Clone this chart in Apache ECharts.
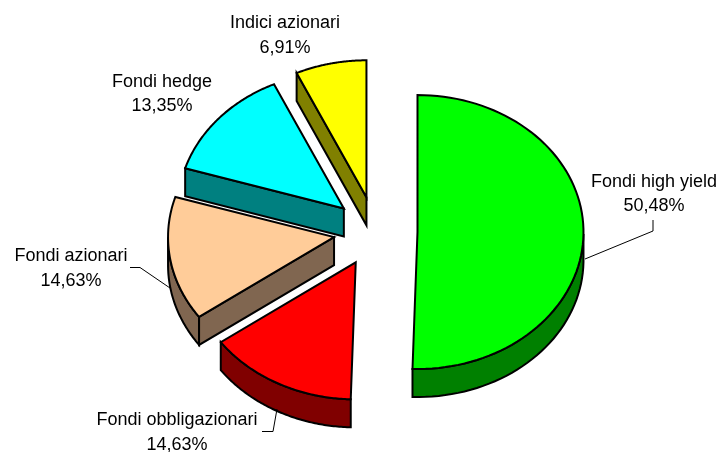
<!DOCTYPE html>
<html>
<head>
<meta charset="utf-8">
<style>html,body{margin:0;padding:0;background:#fff}#c{width:720px;height:452px}</style>
<script src="https://cdn.jsdelivr.net/npm/echarts@6/dist/echarts.min.js"></script>
</head>
<body>
<div id="c"></div>
<script>
var names = ['Fondi high yield', 'Fondi obbligazionari', 'Fondi azionari', 'Fondi hedge', 'Indici azionari'];
var values = [50.48, 14.63, 14.63, 13.35, 6.91];
var topColors = ['#00ff00', '#ff0000', '#ffcc99', '#00ffff', '#ffff00'];
var sideColors = ['#008000', '#800000', '#806650', '#008080', '#808000'];

var labelCenters = [[654, 194], [177, 432.5], [71, 268.5], [162, 94], [285, 35.5]];
var leaderLines = [
  [[585, 259], [653, 231], [653, 220]],
  [[277, 409], [273, 431.5], [262, 431.5]],
  [[170, 288], [140, 267.5], [130, 267.5]],
  null,
  null
];

var C = [375.5, 231.5], RX = 166, RY = 137, EXPLODE_X = 42, EXPLODE_Y = 35, DEPTH = 28;
var total = values.reduce(function (a, b) { return a + b; }, 0);
var starts = [];
values.reduce(function (acc, v, i) { starts[i] = acc; return acc + v; }, 0);

function pointAt(apex, angle) {
  return [apex[0] + RX * Math.sin(angle), apex[1] - RY * Math.cos(angle)];
}
function down(p) { return [p[0], p[1] + DEPTH]; }
var outline = { stroke: '#000', lineWidth: 2, lineJoin: 'miter', miterLimit: 20 };
function poly(points, fill) {
  return {
    type: 'polygon', shape: { points: points },
    style: Object.assign({ fill: fill }, outline)
  };
}
function renderItem(params, api) {
  var i = params.dataIndex, v = api.value(0);
  var a0 = starts[i] / total * 2 * Math.PI;
  var a1 = a0 + v / total * 2 * Math.PI;
  var mid = (a0 + a1) / 2;
  var apex = [C[0] + EXPLODE_X * Math.sin(mid), C[1] - EXPLODE_Y * Math.cos(mid)];
  var arc = [], n = 80, k;
  for (k = 0; k <= n; k++) arc.push(pointAt(apex, a0 + (a1 - a0) * k / n));

  var children = [];
  // visible outer wall: parts of the rim that travel leftwards on screen
  var run = [];
  function flush() {
    if (run.length > 1) {
      children.push(poly(run.concat(run.slice().reverse().map(down)), sideColors[i]));
    }
    run = [];
  }
  for (k = 0; k < n; k++) {
    if (arc[k + 1][0] < arc[k][0]) {
      if (!run.length) run.push(arc[k]);
      run.push(arc[k + 1]);
    } else flush();
  }
  flush();
  // visible radial wall
  var first = arc[0];
  if (first[0] < apex[0] && (apex[0] - first[0]) > 0.1 * Math.hypot(first[0] - apex[0], first[1] - apex[1])) {
    children.push(poly([apex, first, down(first), down(apex)], sideColors[i]));
  }
  children.push(poly([apex].concat(arc), topColors[i]));

  if (leaderLines[i]) {
    children.push({
      type: 'polyline', shape: { points: leaderLines[i] },
      style: { fill: null, stroke: '#000', lineWidth: 1 }
    });
  }
  var lc = labelCenters[i];
  children.push({
    type: 'text',
    style: {
      text: names[i] + '\n' + v.toFixed(2).replace('.', ',') + '%',
      x: lc[0], y: lc[1], align: 'center', verticalAlign: 'middle',
      fill: '#000', fontFamily: 'Liberation Sans', fontSize: 18, lineHeight: 24.5
    }
  });
  return { type: 'group', children: children };
}

var chart = echarts.init(document.getElementById('c'), null, { renderer: 'canvas' });
chart.setOption({
  animation: false,
  backgroundColor: '#fff',
  series: [{
    type: 'custom',
    coordinateSystem: 'none',
    renderItem: renderItem,
    data: values.map(function (v, i) { return { name: names[i], value: [v] }; })
  }]
});
</script>
</body>
</html>
